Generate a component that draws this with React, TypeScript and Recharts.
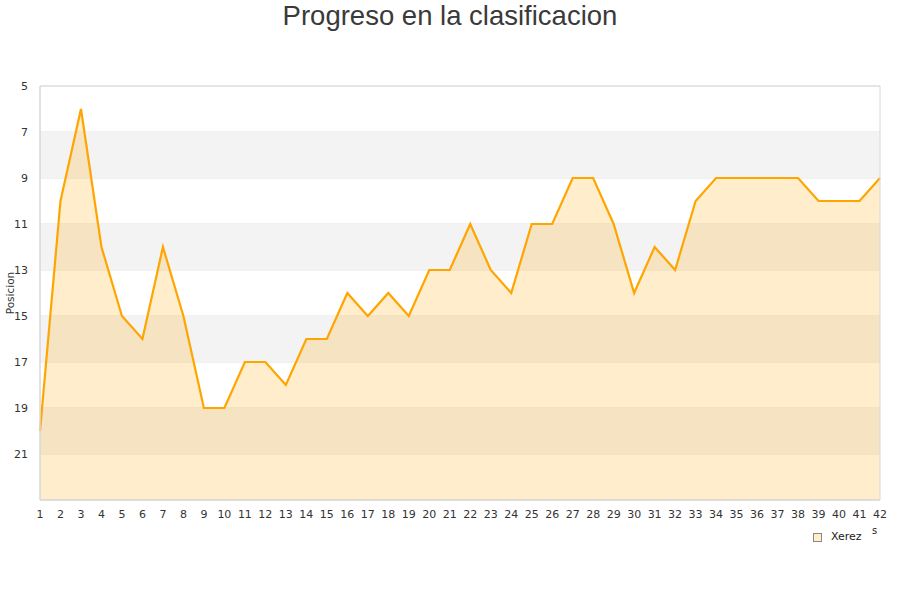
import React from 'react';
import {
  ComposedChart, Area, XAxis, YAxis, CartesianGrid, ReferenceArea,
} from 'recharts';

const jornadas: number[] = Array.from({ length: 42 }, (_, i) => i + 1);
const posiciones: number[] = [
  20, 10, 6, 12, 15, 16, 12, 15, 19, 19,
  17, 17, 18, 16, 16, 14, 15, 14, 15, 13,
  13, 11, 13, 14, 11, 11, 9, 9, 11, 14,
  12, 13, 10, 9, 9, 9, 9, 9, 10, 10,
  10, 9,
];
const yTicks: number[] = [5, 7, 9, 11, 13, 15, 17, 19, 21];
const bands: [number, number][] = [[7, 9], [11, 13], [15, 17], [19, 21]];
const seriesName = 'Xerez';

const data = jornadas.map((j, i) => ({ jornada: j, pos: posiciones[i] }));

export default function App() {
  return (
    <div style={{ position: 'absolute', left: 0, top: 0, width: 900, height: 600, background: '#fff' }}>
      <div style={{ position: 'absolute', left: 0, top: 0, width: 900, textAlign: 'center', fontFamily: 'Liberation Sans', fontSize: 27.5, color: '#3a3a3a', lineHeight: '31px' }}>
        Progreso en la clasificacion
      </div>
      <ComposedChart width={900} height={600} data={data} margin={{ top: 86, right: 20, bottom: 70, left: 0 }}>
        {bands.map(([a, b]) => (
          <ReferenceArea key={a} y1={a} y2={b} x1={1} x2={42} fill="#f3f3f3" fillOpacity={1} stroke="none" ifOverflow="hidden" />
        ))}
        <CartesianGrid vertical={false} stroke="#e2e2e2" strokeDasharray="" />
        <XAxis
          dataKey="jornada"
          type="number"
          domain={[1, 42]}
          ticks={jornadas}
          interval={0}
          tickLine={false}
          axisLine={{ stroke: '#d8d8d8' }}
          tick={{ fontSize: 11, fill: '#333', fontFamily: 'DejaVu Sans' }}
          tickMargin={4}
          height={30}
        />
        <YAxis
          reversed
          type="number"
          domain={[5, 23]}
          ticks={yTicks}
          interval={0}
          tickLine={false}
          axisLine={{ stroke: '#d8d8d8' }}
          tick={{ fontSize: 11, fill: '#333', fontFamily: 'DejaVu Sans' }}
          tickMargin={6}
          width={40}
          label={{ value: 'Posicion', angle: -90, position: 'insideLeft', offset: 10, style: { fontSize: 10.5, fill: '#333', fontFamily: 'DejaVu Sans', textAnchor: 'middle' } }}
        />
        <Area
          type="linear"
          dataKey="pos"
          name={seriesName}
          baseValue={23}
          stroke="#FFA500"
          strokeWidth={2.2}
          fill="#FFA500"
          fillOpacity={0.2}
          dot={false}
          activeDot={false}
          isAnimationActive={false}
        />
        <ReferenceArea x1={1} x2={42} y1={5} y2={23} fill="none" stroke="#d8d8d8" ifOverflow="visible" />
      </ComposedChart>
      <div style={{ position: 'absolute', left: 813, top: 530, width: 87, height: 20, fontFamily: 'DejaVu Sans', fontSize: 11, color: '#222' }}>
        <span style={{ position: 'absolute', left: 0, top: 3, width: 7, height: 7, border: '1px solid #888', background: '#FFEDCC' }} />
        <span style={{ position: 'absolute', left: 18, top: 0 }}>{seriesName}</span>
        <span style={{ position: 'absolute', left: 59, top: -5, fontSize: 10 }}>s</span>
      </div>
    </div>
  );
}
